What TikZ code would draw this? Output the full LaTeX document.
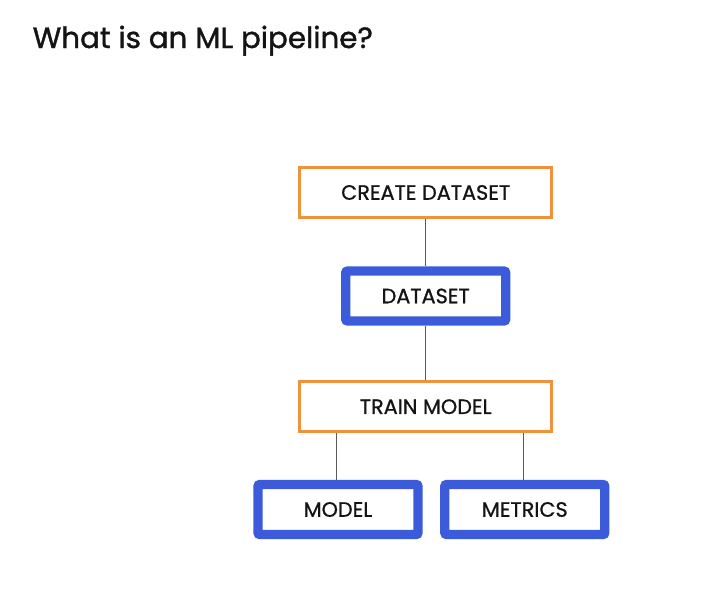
\documentclass[tikz,border=0pt]{standalone}
\usepackage{fontspec}
\setmainfont{Poppins}[FakeBold=0.9]
\newfontfamily\titlefont{Poppins}[FakeBold=1.3]
\definecolor{borange}{HTML}{F0923A}
\definecolor{bblue}{HTML}{3B5BDB}
\definecolor{txt}{HTML}{141414}
\begin{document}
\begin{tikzpicture}[x=0.75pt,y=-0.75pt,
  step box/.style={draw=borange,line width=2.2pt,fill=white,minimum width=189pt,minimum height=37.5pt,inner sep=0pt,font=\fontsize{15.6}{18}\selectfont,text=txt},
  art box/.style={draw=bblue,line width=7pt,rounded corners=1.5pt,fill=white,minimum width=120pt,minimum height=37.5pt,inner sep=0pt,font=\fontsize{15.6}{18}\selectfont,text=txt},
  link/.style={draw=black!65,line width=0.9pt}]
\useasboundingbox (0,0) rectangle (717,596);
\node[anchor=base west,font=\titlefont\fontsize{22}{26}\selectfont,text=txt] (title) at (28,48) {What is an ML pipeline?};
\node[step box] (create) at (425.7,192.5) {CREATE DATASET};
\node[art box] (dataset) at (425.7,296) {DATASET};
\node[step box] (train) at (425.7,406.7) {TRAIN MODEL};
\node[art box] (model) at (338,509.5) {MODEL};
\node[art box] (metrics) at (524.8,509.5) {METRICS};
\draw[link] (create.south) -- (dataset.north);
\draw[link] (dataset.south) -- (train.north);
\draw[link] (train.south -| model.north) ++(-1.3,0) coordinate (m1) -- (m1 |- model.north);
\draw[link] (train.south -| metrics.north) ++(-1,0) coordinate (r1) -- (r1 |- metrics.north);
\end{tikzpicture}
\end{document}
